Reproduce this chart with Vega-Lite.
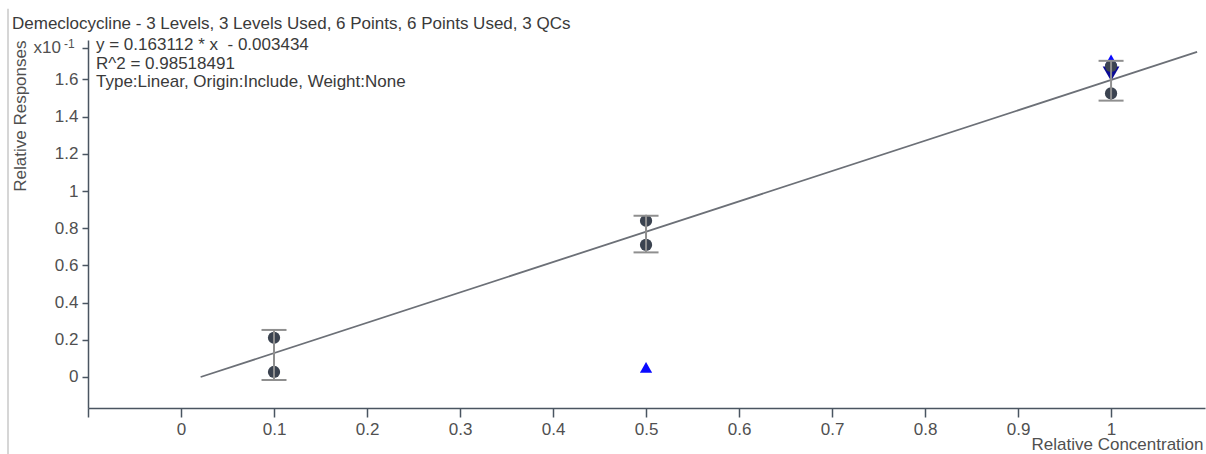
{
  "$schema": "https://vega.github.io/schema/vega-lite/v6.json",
  "width": 1117,
  "height": 368,
  "autosize": {"type": "none"},
  "padding": {"left": 88, "top": 40, "right": 1, "bottom": 46},
  "background": "white",
  "config": {"font": "Liberation Sans", "view": {"stroke": null}},
  "title": {
    "text": "Demeclocycline - 3 Levels, 3 Levels Used, 6 Points, 6 Points Used, 3 QCs",
    "anchor": "start",
    "frame": "group",
    "dx": -76,
    "dy": 20,
    "offset": -18,
    "baseline": "alphabetic",
    "fontSize": 17,
    "fontWeight": "normal",
    "color": "#3a3a3a"
  },
  "datasets": {
    "fit": [
      {"conc": 0.0211, "resp": 0.0},
      {"conc": 1.0925, "resp": 1.7477}
    ],
    "cal": [
      {"conc": 0.1, "resp": 0.211},
      {"conc": 0.1, "resp": 0.027},
      {"conc": 0.5, "resp": 0.840},
      {"conc": 0.5, "resp": 0.710},
      {"conc": 1.0, "resp": 1.672},
      {"conc": 1.0, "resp": 1.525}
    ],
    "err": [
      {"conc": 0.1, "lo": -0.016, "hi": 0.253},
      {"conc": 0.5, "lo": 0.670, "hi": 0.867},
      {"conc": 1.0, "lo": 1.486, "hi": 1.700}
    ],
    "qc": [
      {"conc": 0.5, "resp": 0.052, "kind": "up"},
      {"conc": 1.0, "resp": 1.705, "kind": "up"},
      {"conc": 1.0, "resp": 1.630, "kind": "down"}
    ]
  },
  "layer": [
    {
      "data": {"values": [{}]},
      "mark": {"type": "rule", "color": "#d6d6d6", "strokeWidth": 2},
      "encoding": {
        "x": {"datum": -0.186, "type": "quantitative"},
        "y": {"datum": 1.98, "type": "quantitative"},
        "y2": {"datum": -0.42}
      }
    },
    {
      "data": {"name": "fit"},
      "mark": {"type": "line", "color": "#6c7077", "strokeWidth": 1.8},
      "encoding": {
        "x": {
          "field": "conc",
          "type": "quantitative",
          "scale": {"domain": [-0.1, 1.101], "nice": false, "zero": false},
          "axis": {
            "values": [-0.1, 0, 0.1, 0.2, 0.3, 0.4, 0.5, 0.6, 0.7, 0.8, 0.9, 1.0],
            "labelExpr": "datum.value < -0.05 ? '' : format(datum.value, '.1~f')",
            "grid": false,
            "domainColor": "#4a5561",
            "domainWidth": 1.5,
            "tickColor": "#4a5561",
            "tickWidth": 1.5,
            "tickSize": 9,
            "labelPadding": 4,
            "labelFontSize": 17,
            "labelColor": "#505050",
            "labelFlush": false,
            "labelOverlap": false,
            "title": "Relative Concentration",
            "titleFontSize": 17,
            "titleFontWeight": "normal",
            "titleColor": "#505050",
            "titleAnchor": null,
            "titleX": 1115,
            "titleY": 36,
            "titleAlign": "right",
            "titleBaseline": "middle"
          }
        },
        "y": {
          "field": "resp",
          "type": "quantitative",
          "scale": {"domain": [-0.1667, 1.812], "nice": false, "zero": false},
          "axis": {
            "values": [0, 0.2, 0.4, 0.6, 0.8, 1.0, 1.2, 1.4, 1.6, 1.77],
            "labelExpr": "datum.value > 1.7 ? '' : format(datum.value, '.1~f')",
            "grid": false,
            "domainColor": "#4a5561",
            "domainWidth": 1.5,
            "tickColor": "#4a5561",
            "tickWidth": 1.5,
            "tickSize": 6,
            "labelPadding": 4,
            "labelFontSize": 17,
            "labelColor": "#505050",
            "labelFlush": false,
            "labelOverlap": false,
            "title": "Relative Responses",
            "titleFontSize": 17,
            "titleFontWeight": "normal",
            "titleColor": "#505050",
            "titleAnchor": null,
            "titleAngle": -90,
            "titleX": -63,
            "titleY": 0,
            "titleAlign": "right",
            "titleBaseline": "alphabetic"
          }
        }
      }
    },
    {
      "data": {"name": "qc"},
      "mark": {"type": "point", "filled": true, "opacity": 1},
      "encoding": {
        "x": {"field": "conc", "type": "quantitative"},
        "y": {"field": "resp", "type": "quantitative"},
        "shape": {
          "field": "kind",
          "type": "nominal",
          "scale": {"domain": ["up", "down"], "range": ["triangle-up", "triangle-down"]},
          "legend": null
        },
        "color": {
          "field": "kind",
          "type": "nominal",
          "scale": {"domain": ["up", "down"], "range": ["#0a0aff", "#0b0b96"]},
          "legend": null
        },
        "size": {
          "field": "kind",
          "type": "nominal",
          "scale": {"domain": ["up", "down"], "range": [150, 280]},
          "legend": null
        }
      }
    },
    {
      "data": {"name": "cal"},
      "mark": {"type": "circle", "color": "#3b4350", "opacity": 1, "size": 150},
      "encoding": {
        "x": {"field": "conc", "type": "quantitative"},
        "y": {"field": "resp", "type": "quantitative"}
      }
    },
    {
      "data": {"name": "err"},
      "mark": {"type": "rule", "color": "#8f8f8f", "strokeWidth": 2},
      "encoding": {
        "x": {"field": "conc", "type": "quantitative"},
        "y": {"field": "lo", "type": "quantitative"},
        "y2": {"field": "hi"}
      }
    },
    {
      "data": {"name": "err"},
      "mark": {"type": "tick", "orient": "horizontal", "color": "#8f8f8f", "size": 25, "thickness": 2, "opacity": 1},
      "encoding": {
        "x": {"field": "conc", "type": "quantitative"},
        "y": {"field": "lo", "type": "quantitative"}
      }
    },
    {
      "data": {"name": "err"},
      "mark": {"type": "tick", "orient": "horizontal", "color": "#8f8f8f", "size": 25, "thickness": 2, "opacity": 1},
      "encoding": {
        "x": {"field": "conc", "type": "quantitative"},
        "y": {"field": "hi", "type": "quantitative"}
      }
    },
    {
      "data": {"values": [{}]},
      "mark": {
        "type": "text",
        "align": "right",
        "baseline": "middle",
        "dx": -27,
        "fontSize": 17,
        "color": "#505050"
      },
      "encoding": {
        "x": {"datum": -0.1, "type": "quantitative"},
        "y": {"datum": 1.77, "type": "quantitative"},
        "text": {"value": "x10"}
      }
    },
    {
      "data": {"values": [{}]},
      "mark": {
        "type": "text",
        "align": "left",
        "baseline": "middle",
        "dx": -24,
        "dy": -4,
        "fontSize": 12,
        "color": "#505050"
      },
      "encoding": {
        "x": {"datum": -0.1, "type": "quantitative"},
        "y": {"datum": 1.77, "type": "quantitative"},
        "text": {"value": "-1"}
      }
    },
    {
      "data": {"values": [{}]},
      "mark": {
        "type": "text",
        "align": "left",
        "baseline": "middle",
        "dx": 8,
        "fontSize": 17,
        "lineHeight": 18.5,
        "color": "#3a3a3a"
      },
      "encoding": {
        "x": {"datum": -0.1, "type": "quantitative"},
        "y": {"datum": 1.785, "type": "quantitative"},
        "text": {"value": ["y = 0.163112 * x \u00a0- 0.003434", "R^2 = 0.98518491", "Type:Linear, Origin:Include, Weight:None"]}
      }
    }
  ]
}
